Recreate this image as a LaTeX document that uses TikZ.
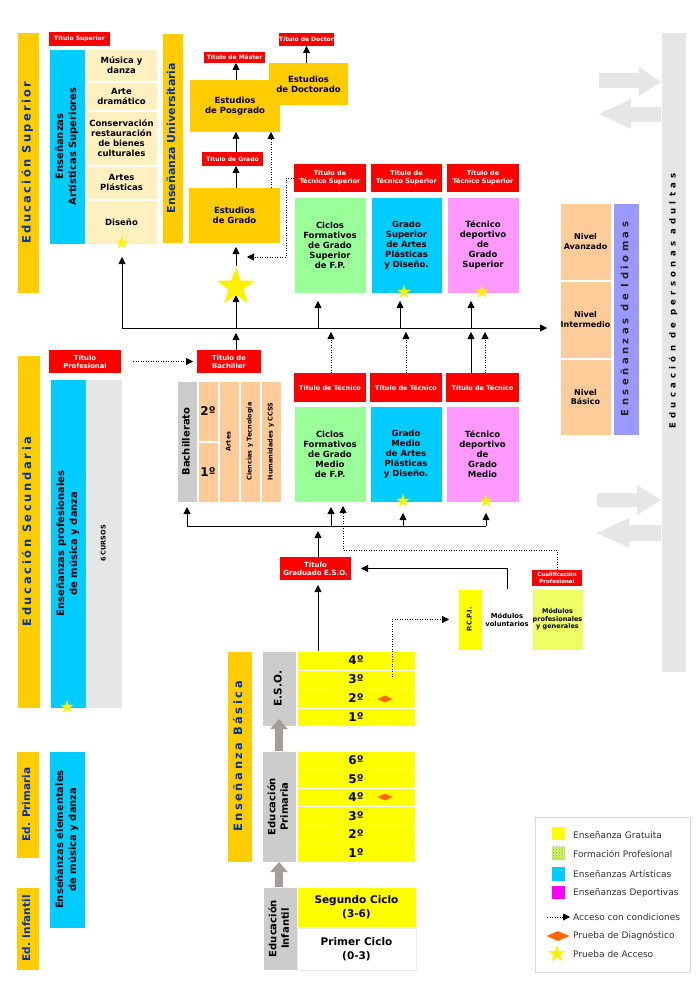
\documentclass[tikz,border=0pt]{standalone}
\usepackage{fontspec}
\setmainfont{DejaVu Sans}
\usetikzlibrary{arrows.meta,shapes.geometric,patterns}
\definecolor{cgold}{HTML}{FFCC00}
\definecolor{cred}{HTML}{FF0000}
\definecolor{ccyan}{HTML}{00CCFF}
\definecolor{ccream}{HTML}{FFF0C0}
\definecolor{cgreen}{HTML}{99FF99}
\definecolor{cpink}{HTML}{FF99FF}
\definecolor{cpeach}{HTML}{FFCC99}
\definecolor{cviolet}{HTML}{9999FF}
\definecolor{cgrayA}{HTML}{CCCCCC}
\definecolor{cgrayB}{HTML}{E6E6E6}
\definecolor{cyel}{HTML}{FFFF00}
\definecolor{clime}{HTML}{EEFF66}
\definecolor{cblue}{HTML}{0033AA}
\definecolor{corange}{HTML}{FF6600}
\definecolor{cgarrow}{HTML}{A39E99}
\definecolor{cmag}{HTML}{FF00FF}
\definecolor{cfp}{HTML}{D4F060}
\definecolor{ctext}{HTML}{333333}
\newcommand\mybox[7]{\node[#6,minimum width={#4pt-#2pt},minimum height={#5pt-#3pt}] (#1) at ({(#2+#4)/2},{(#3+#5)/2}) {#7};}
\newcommand\rt[1]{\rotatebox{90}{\begin{tabular}{@{}c@{}}#1\end{tabular}}}
\newcommand\lsp[2]{{\addfontfeature{LetterSpace=#1}#2}}
\begin{document}
\begin{tikzpicture}[x=1pt,y=-1pt,
  cellb/.style={inner sep=0pt,outer sep=0pt,draw=white,line width=0.6pt,align=center,text=black},
  bar/.style={cellb,fill=cgold,text=cblue,font=\fontsize{11.5}{13}\bfseries},
  tit/.style={inner sep=0pt,outer sep=0pt,fill=cred,text=white,align=center,font=\fontsize{6.5}{8}\bfseries},
  gold/.style={inner sep=0pt,outer sep=0pt,fill=cgold,align=center,font=\fontsize{8.5}{10}\bfseries},
  cream/.style={cellb,fill=ccream,font=\fontsize{8.5}{10}\bfseries},
  big/.style={cellb,font=\fontsize{8.5}{10}\bfseries},
  lab/.style={cellb,font=\fontsize{10}{13}\bfseries},
  small/.style={cellb,font=\fontsize{6.5}{8}\bfseries},
  num/.style={cellb,fill=cyel,font=\fontsize{12}{14}\bfseries},
  sstar/.style={star,star points=5,star point ratio=2.5,fill=yellow,draw=none,inner sep=0pt,minimum size=14pt},
  bstar/.style={sstar,minimum size=40pt},
  dia/.style={diamond,fill=corange,draw=none,inner sep=0pt,minimum width=15pt,minimum height=7pt},
  arr/.style={-{Triangle[length=7pt,width=7pt]},line width=0.8pt,black},
  darr/.style={arr,dash pattern=on 1pt off 1.5pt},
  plain/.style={line width=0.8pt,black},
  garr/.style={line width=8pt,draw=cgarrow,-{Triangle[length=10pt,width=17pt]}},
  legtext/.style={anchor=west,inner sep=0pt,text=ctext,font=\fontsize{9}{11}\selectfont}
]
\fill[white] (0,0) rectangle (700,992);
\useasboundingbox (0,0) rectangle (700,992);

% ---------------- Educacion superior ----------------
\mybox{esup}{17}{32}{39}{293}{bar}{\rt{\lsp{20}{Educación Superior}}}
\mybox{tsup}{49}{32}{110}{46}{tit,font=\fontsize{6}{7}\bfseries}{Título Superior}
\mybox{eas}{49}{49}{85}{244}{lab,fill=ccyan}{\rt{Enseñanzas\\Artísticas Superiores}}
\mybox{c1}{86}{49}{157}{81}{cream}{Música y\\danza}
\mybox{c2}{86}{82}{157}{110}{cream}{Arte\\dramático}
\mybox{c3}{86}{111}{157}{165}{cream}{Conservación\\restauración\\de bienes\\culturales}
\mybox{c4}{86}{166}{157}{199}{cream}{Artes\\Plásticas}
\mybox{c5}{86}{200}{157}{244}{cream}{Diseño}
\node[sstar] (s1) at (122,243) {};
\mybox{euni}{162}{33}{183}{243}{bar,font=\fontsize{11}{13}\bfseries}{\rt{Enseñanza Universitaria}}
\mybox{tmaster}{204}{52}{265}{63}{tit,font=\fontsize{6}{7}\bfseries}{Título de Máster}
\mybox{tdoctor}{280}{33}{333}{46}{tit,font=\fontsize{6}{7}\bfseries}{Título de Doctor}
\mybox{posg}{190}{80}{280}{132}{gold}{Estudios\\de Posgrado}
\mybox{doct}{269}{63}{348}{105}{gold}{Estudios\\de Doctorado}
\mybox{tgrado}{202}{152}{263}{166}{tit,font=\fontsize{6}{7}\bfseries}{Título de Grado}
\mybox{grado}{189}{188}{280}{243}{gold}{Estudios\\de Grado}
\node[bstar] (bigstar) at (236,287) {};

% FP superior
\mybox{tts1}{294}{164}{366}{192}{tit}{Título de\\Técnico Superior}
\mybox{tts2}{371}{164}{442}{192}{tit}{Título de\\Técnico Superior}
\mybox{tts3}{447}{164}{519}{192}{tit}{Título de\\Técnico Superior}
\mybox{cfgs}{294}{197}{366}{293}{big,fill=cgreen}{Ciclos\\Formativos\\de Grado\\Superior\\de F.P.}
\mybox{gsap}{371}{197}{442}{293}{big,fill=ccyan}{Grado\\Superior\\de Artes\\Plásticas\\y Diseño.}
\mybox{tdgs}{447}{197}{519}{293}{big,fill=cpink}{Técnico\\deportivo\\de\\Grado\\Superior}
\node[sstar] (st2) at (404,292) {};
\node[sstar] (st3) at (482,292) {};

% Idiomas and adults
\mybox{nivav}{560}{203}{611}{280}{cellb,fill=cpeach,font=\fontsize{8}{9.5}\bfseries}{Nivel\\Avanzado}
\mybox{nivint}{560}{281}{611}{358}{cellb,fill=cpeach,font=\fontsize{8}{9.5}\bfseries}{Nivel\\Intermedio}
\mybox{nivbas}{560}{359}{611}{435}{cellb,fill=cpeach,font=\fontsize{8}{9.5}\bfseries}{Nivel\\Básico}
\mybox{eidi}{613}{203}{639}{435}{cellb,fill=cviolet,text=black!85,font=\fontsize{10}{12}\bfseries}{\rt{\lsp{35}{Enseñanzas de Idiomas}}}
\mybox{adult}{661}{32}{686}{672}{cellb,fill=cgrayB}{}
\node[inner sep=0pt,font=\fontsize{8.5}{10}\bfseries] (adultlbl) at (673.5,301) {\rt{\lsp{50}{Educación de personas adultas}}};
\fill[cgrayB] (599,73) -- (639,73) -- (639,67) -- (661,82) -- (639,96) -- (639,88) -- (599,88) -- cycle;
\fill[cgrayB] (661,107) -- (631,107) -- (631,99) -- (599,114) -- (631,129) -- (631,122) -- (661,122) -- cycle;
\fill[cgrayB] (597,493) -- (637,493) -- (637,485) -- (661,500) -- (637,515) -- (637,507) -- (597,507) -- cycle;
\fill[cgrayB] (661,525) -- (629,525) -- (629,518) -- (597,533) -- (629,548) -- (629,541) -- (661,541) -- cycle;

% ---------------- Secundaria ----------------
\mybox{esec}{17}{355}{40}{708}{bar}{\rt{\lsp{23}{Educación Secundaria}}}
\mybox{tprof}{49}{350}{121}{373}{tit,font=\fontsize{6.8}{8}\bfseries}{Título\\Profesional}
\mybox{epmd}{50}{379}{86}{708}{lab,fill=ccyan}{\rt{Enseñanzas profesionales\\de música y danza}}
\mybox{cursos}{86}{379}{122}{708}{small,fill=cgrayB}{\rt{6 CURSOS}}
\node[sstar] (st4) at (67,707) {};
\mybox{tbach}{197}{350}{261}{373}{tit,font=\fontsize{6.8}{8}\bfseries}{Título de\\Bachiller}
\mybox{bach}{177}{381}{197}{502}{lab,fill=cgrayA}{\rt{Bachillerato}}
\mybox{b2}{198}{381}{218}{441}{cellb,fill=cpeach,font=\fontsize{12}{14}\bfseries}{2º}
\mybox{b1}{198}{442}{218}{502}{cellb,fill=cpeach,font=\fontsize{12}{14}\bfseries}{1º}
\mybox{artes}{219}{381}{239}{502}{small,fill=cpeach}{\rt{Artes}}
\mybox{cyt}{240}{381}{260}{502}{small,fill=cpeach}{\rt{Ciencias y Tecnología}}
\mybox{hcs}{261}{381}{281}{502}{small,fill=cpeach}{\rt{Humanidades y CCSS}}
\mybox{ttm1}{294}{373}{366}{402}{tit}{Título de Técnico}
\mybox{ttm2}{370}{373}{442}{402}{tit}{Título de Técnico}
\mybox{ttm3}{446}{373}{519}{402}{tit}{Título de Técnico}
\mybox{cfgm}{294}{406}{366}{502}{big,fill=cgreen}{Ciclos\\Formativos\\de Grado\\Medio\\de F.P.}
\mybox{gmap}{370}{406}{442}{502}{big,fill=ccyan}{Grado\\Medio\\de Artes\\Plásticas\\y Diseño.}
\mybox{tdgm}{446}{406}{519}{502}{big,fill=cpink}{Técnico\\deportivo\\de\\Grado\\Medio}
\node[sstar] (st5) at (403,501) {};
\node[sstar] (st6) at (486,501) {};
\mybox{tgeso}{280}{557}{351}{580}{tit,font=\fontsize{7}{8.5}\bfseries}{Título\\Graduado E.S.O.}
\mybox{cualif}{532}{570}{582}{586}{tit,font=\fontsize{5.5}{6.5}\bfseries}{Cualificación\\Profesional}
\mybox{pcpi}{458}{589}{482}{650}{small,fill=cyel}{\rt{P.C.P.I.}}
\mybox{modvol}{482}{589}{532}{650}{cellb,fill=white,font=\fontsize{6.8}{8}\bfseries}{Módulos\\voluntarios}
\mybox{modpg}{532}{589}{583}{650}{cellb,fill=clime,font=\fontsize{6.5}{7.5}\bfseries}{Módulos\\profesionales\\y generales}

% ---------------- Basica ----------------
\mybox{ebas}{227}{651}{252}{862}{bar}{\rt{\lsp{22}{Enseñanza Básica}}}
\mybox{eso}{262}{651}{296}{726}{lab,fill=cgrayA,font=\fontsize{10.5}{13}\bfseries}{\rt{E.S.O.}}
\mybox{eso4}{297}{651}{415}{670}{num}{4º}
\mybox{eso3}{297}{670}{415}{689}{num}{3º}
\mybox{eso2}{297}{689}{415}{708}{num}{2º}
\mybox{eso1}{297}{708}{415}{726}{num}{1º}
\mybox{prim}{262}{751}{296}{862}{lab,fill=cgrayA,font=\fontsize{10}{12.5}\bfseries}{\rt{Educación\\Primaria}}
\mybox{p6}{297}{751}{415}{769.5}{num}{6º}
\mybox{p5}{297}{769.5}{415}{788}{num}{5º}
\mybox{p4}{297}{788}{415}{806.5}{num}{4º}
\mybox{p3}{297}{806.5}{415}{825}{num}{3º}
\mybox{p2}{297}{825}{415}{843.5}{num}{2º}
\mybox{p1}{297}{843.5}{415}{862}{num}{1º}
\node[dia] (dm1) at (385,699) {};
\node[dia] (dm2) at (385,797) {};
\mybox{edprim}{16}{751}{39}{858}{bar,font=\fontsize{10.5}{13}\bfseries}{\rt{Ed. Primaria}}
\mybox{eemd}{49}{751}{85}{928}{lab,fill=ccyan}{\rt{Enseñanzas elementales\\de música y danza}}
\mybox{edinf}{16}{887}{39}{970}{bar,font=\fontsize{10.5}{13}\bfseries}{\rt{Ed. Infantil}}
\mybox{inf}{263}{887}{297}{970}{lab,fill=cgrayA,font=\fontsize{10}{12.5}\bfseries}{\rt{Educación\\Infantil}}
\mybox{seg}{297}{887}{416}{927}{cellb,fill=cyel,font=\fontsize{10.5}{14}\bfseries}{Segundo Ciclo\\(3-6)}
\mybox{pri}{297}{928}{416}{970}{cellb,fill=white,draw=black!8,font=\fontsize{10.5}{14}\bfseries}{Primer Ciclo\\(0-3)}
\draw[garr] (inf.north -| 279,0) -- (prim.south -| 279,0);
\draw[garr] (prim.north -| 279,0) -- ([yshift=7pt]eso.south -| 279,0);

% ---------------- Connectors ----------------
\coordinate (gx) at (271,0);
\coordinate (xa) at (318,0);
\coordinate (xb) at (400,0);
\coordinate (xc) at (471,0);
\coordinate (xd) at (331,0);
\coordinate (xe) at (406,0);
\coordinate (xf) at (485,0);
\coordinate (xg) at (343,0);
\coordinate (hl) at (122,328);
\coordinate (ll) at (187,526);
\coordinate (acc1) at (247,257);
\coordinate (dd) at (392,677);

\draw[arr] (grado.north -| bigstar) -- (tgrado.south -| bigstar);
\draw[arr] (tgrado.north -| bigstar) -- (posg.south -| bigstar);
\draw[arr] (posg.north -| bigstar) -- (tmaster.south -| bigstar);
\draw[arr] (doct.north -| tdoctor) -- (tdoctor.south);
\draw[darr] (grado.north -| gx) -- (posg.south -| gx);
\draw[darr] (tts1.west) -- ++(-8,0) |- (acc1);
\draw[arr,shorten >=4pt] (bigstar.north) -- (grado.south -| bigstar);

\draw[arr,shorten >=13pt] (hl) -- (hl -| nivint.west);
\draw[arr,shorten >=14pt] (hl) -- (s1.center);
\draw[arr] (hl -| bigstar) -- (bigstar.south);
\draw[arr,shorten >=5pt] (tbach.north -| bigstar) -- (hl -| bigstar);
\draw[arr,shorten >=8pt] (hl -| xa) -- (cfgs.south -| xa);
\draw[arr,shorten >=8pt] (hl -| xb) -- (gsap.south -| xb);
\draw[arr,shorten >=8pt] (hl -| xc) -- (tdgs.south -| xc);
\draw[darr,shorten >=4pt] (ttm1.north -| xd) -- (hl -| xd);
\draw[darr,shorten >=4pt] (ttm2.north -| xe) -- (hl -| xe);
\draw[arr,shorten >=4pt] (ttm3.north -| xc) -- (hl -| xc);
\draw[darr,shorten >=4pt] (ttm3.north -| xf) -- (hl -| xf);
\draw[darr,shorten <=12pt,shorten >=4pt] (tprof.east) -- (tbach.west);

\draw[plain] (ll) -- (ll -| st6);
\draw[arr,shorten >=5pt] (ll) -- (bach.south);
\draw[arr,shorten >=5pt] (ll -| xd) -- (cfgm.south -| xd);
\draw[arr,shorten >=11pt] (ll -| st5) -- (gmap.south -| st5);
\draw[arr,shorten >=11pt] (ll -| st6) -- (tdgm.south -| st6);
\draw[arr,shorten >=5pt] (tgeso.north -| xa) -- (ll -| xa);
\draw[darr,shorten >=4pt] (cualif.north) -- ++(0,-20) -| (cfgm.south -| xg);
\draw[arr,shorten >=10pt] (modvol.north) |- (tgeso.east);
\draw[arr,shorten >=5pt] (eso4.north -| xa) -- (tgeso.south -| xa);
\draw[darr,shorten >=9pt] (dd) |- (pcpi.west);

% ---------------- Legend ----------------
\mybox{leg}{535}{817}{690}{972}{draw=black!15,fill=white,line width=0.6pt}{}
\mybox{lg1}{552}{827}{565}{840}{fill=cyel,inner sep=0pt}{}
\mybox{lg2}{552}{847}{565}{860}{fill=cfp,inner sep=0pt}{}
\fill[pattern=crosshatch dots,pattern color=green!60!black!60] (lg2.south west) rectangle (lg2.north east);
\mybox{lg3}{552}{867}{565}{881}{fill=ccyan,inner sep=0pt}{}
\mybox{lg4}{552}{886}{565}{899}{fill=cmag,inner sep=0pt}{}
\node[legtext] (lt1) at (573,835) {Enseñanza Gratuita};
\node[legtext] (lt2) at (573,854) {Formación Profesional};
\node[legtext] (lt3) at (573,874) {Enseñanzas Artísticas};
\node[legtext] (lt4) at (573,893) {Enseñanzas Deportivas};
\coordinate (la1) at (547,917);
\coordinate (la2) at (570,917);
\draw[darr] (la1) -- (la2);
\node[legtext] (lt5) at (573,917) {Acceso con condiciones};
\node[dia,minimum width=23pt,minimum height=10pt] (ld) at (558,936) {};
\node[legtext] (lt6) at (573,936) {Prueba de Diagnóstico};
\node[sstar,minimum size=18pt] (ls) at (557,954) {};
\node[legtext] (lt7) at (573,954) {Prueba de Acceso};
\end{tikzpicture}
\end{document}
